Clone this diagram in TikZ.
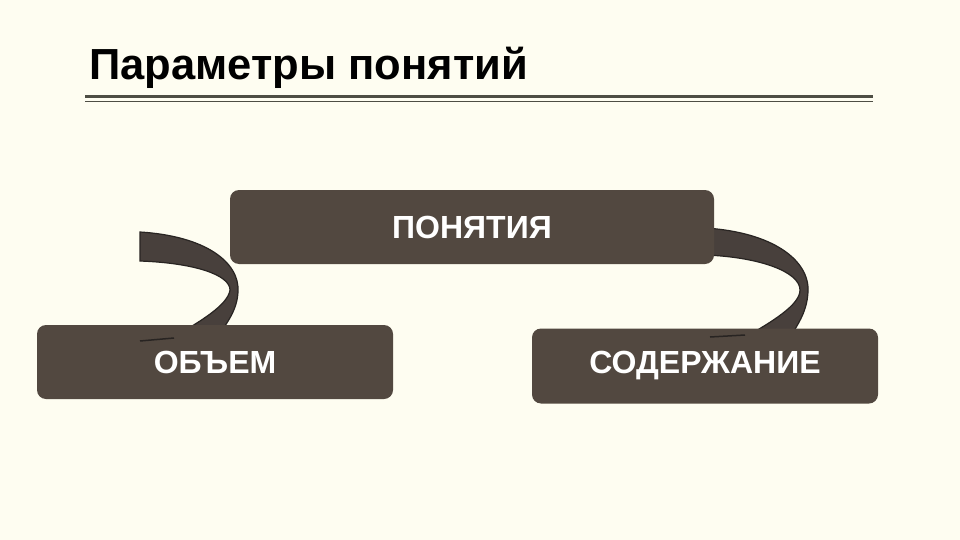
\documentclass[tikz,border=0pt]{standalone}
\usepackage{fontspec}
\setmainfont{Liberation Sans}
\usetikzlibrary{positioning}
\definecolor{creambg}{RGB}{254, 253, 241}
\definecolor{boxbrown}{RGB}{82, 72, 64}
\definecolor{ribbonfill}{RGB}{72, 64, 60}
\definecolor{ribbonedge}{RGB}{40, 36, 34}
\definecolor{ruleolive}{RGB}{78, 78, 68}
\tikzset{
  conceptbox/.style={
    fill=boxbrown,
    rounded corners=9pt,
    inner sep=0pt,
    text=white,
    font=\fontsize{32}{32}\selectfont\bfseries
  },
  ribbon/.style={
    fill=ribbonfill,
    draw=ribbonedge,
    line width=1.2pt
  },
  tailline/.style={
    draw=ribbonedge,
    line width=1.5pt
  }
}
\begin{document}
\begin{tikzpicture}[x=1pt, y=-1pt]
  \useasboundingbox[fill=creambg] (0,0) rectangle (960,540);

  % title and rules
  \node[anchor=base west, font=\fontsize{43.5}{43.5}\selectfont\bfseries] (title) at (86,80) {Параметры понятий};
  \draw[ruleolive, line width=3pt] (85,97) -- (873,97);
  \draw[ruleolive, line width=0.8pt] (85,101.5) -- (873,101.5);

  % curved ribbons behind the boxes
  \path[ribbon] (140,232) .. controls (205,236) and (240,262) .. (238,292)
        .. controls (237,310) and (228,322) .. (215,340)
        -- (168,340) .. controls (200,322) and (228,305) .. (230,290)
        .. controls (230,275) and (195,263) .. (140,261) -- cycle;
  \path[ribbon] (705,228) .. controls (772,232) and (810,260) .. (808,292)
        .. controls (807,310) and (800,322) .. (788,340)
        -- (740,340) .. controls (772,322) and (800,305) .. (800,290)
        .. controls (800,272) and (760,257) .. (705,255) -- cycle;

  % boxes
  \node[conceptbox, minimum width=484pt, minimum height=74pt] (concept) at (472,227) {ПОНЯТИЯ};
  \node[conceptbox, minimum width=356pt, minimum height=74pt] (volume) at (215,362) {ОБЪЕМ};
  \node[conceptbox, minimum width=346pt, minimum height=75pt] (content) at (705,366) {СОДЕРЖАНИЕ};

  % tail shadows over the lower boxes
  \coordinate (lt) at (140,341);
  \coordinate (rt) at (710,337);
  \draw[tailline] (lt) -- (174,338);
  \draw[tailline] (rt) -- (745,335);
\end{tikzpicture}
\end{document}
